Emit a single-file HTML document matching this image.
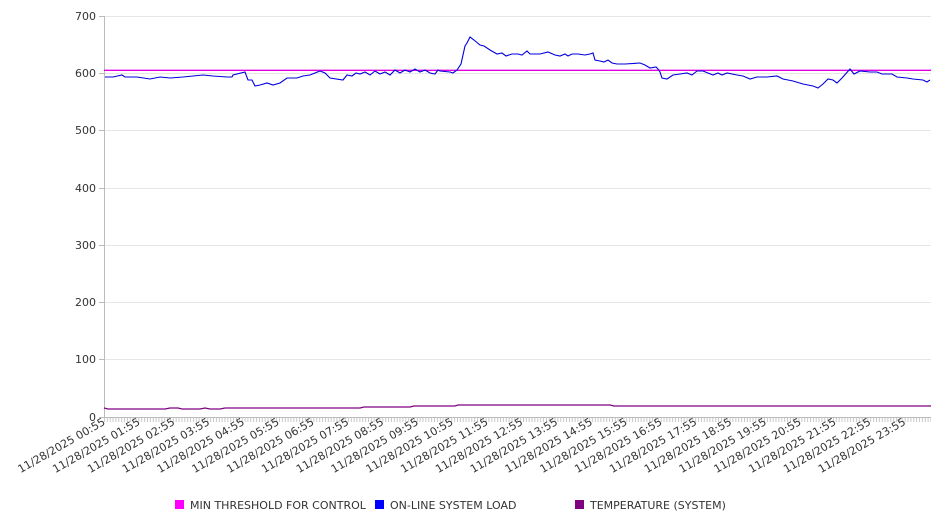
<!DOCTYPE html>
<html><head><meta charset="utf-8"><style>
body{margin:0;background:#fff;}
svg{display:block;font-family:"DejaVu Sans","Liberation Sans",sans-serif;}
</style></head><body>
<svg width="946" height="526" viewBox="0 0 946 526">
<defs><pattern id="tk" x="104" y="0" width="2.87" height="10" patternUnits="userSpaceOnUse"><rect x="0" y="0" width="0.8" height="10" fill="#bbb"/></pattern></defs>
<g stroke="#e6e6e6" stroke-width="1">
<line x1="104" x2="931" y1="16.5" y2="16.5"/><line x1="104" x2="931" y1="73.5" y2="73.5"/><line x1="104" x2="931" y1="130.5" y2="130.5"/><line x1="104" x2="931" y1="188.5" y2="188.5"/><line x1="104" x2="931" y1="245.5" y2="245.5"/><line x1="104" x2="931" y1="302.5" y2="302.5"/><line x1="104" x2="931" y1="359.5" y2="359.5"/>
</g>
<g stroke="#bbb"><line x1="104.5" x2="104.5" y1="16" y2="417"/><line x1="104" x2="931" y1="417.5" y2="417.5"/>
<line x1="99" x2="104" y1="16.5" y2="16.5"/><line x1="99" x2="104" y1="73.5" y2="73.5"/><line x1="99" x2="104" y1="130.5" y2="130.5"/><line x1="99" x2="104" y1="188.5" y2="188.5"/><line x1="99" x2="104" y1="245.5" y2="245.5"/><line x1="99" x2="104" y1="302.5" y2="302.5"/><line x1="99" x2="104" y1="359.5" y2="359.5"/><line x1="99" x2="104" y1="417.5" y2="417.5"/></g>
<rect x="104" y="418" width="827" height="4" fill="url(#tk)"/>
<g font-size="11" fill="#333" text-anchor="end">
<text x="96" y="20">700</text><text x="96" y="77">600</text><text x="96" y="134">500</text><text x="96" y="192">400</text><text x="96" y="249">300</text><text x="96" y="306">200</text><text x="96" y="363">100</text><text x="96" y="421">0</text>
</g>
<polyline fill="none" stroke="#e000e0" stroke-width="1.3" points="104,70.3 931,70.3"/>
<polyline fill="none" stroke="#0000dd" stroke-width="1.1" points="105,77 113,77 122,75 125,77 137,77 150,79 160,77 170,78 183,77 193,76 203,75 213,76 227,77 232,77 233,75 245,72 248,80 252,80 255,86 260,85 267,83 273,85 280,83 287,78 297,78 303,76 310,75 320,71 325,73 330,78 343,80 347,75 352,76 356,73 360,74 365,72 370,75 375,71 380,74 385,72 390,75 395,70 400,73 405,70 410,72 415,69 420,72 425,70 430,73 435,74 438,70 440,71 450,72 453,73 457,70 461,64 465,46 467,43 470,37 474,40 480,45 484,46 490,50 497,54 502,53 506,56 512,54 518,54 522,55 527,51 530,54 540,54 548,52 555,55 560,56 565,54 568,56 572,54 578,54 585,55 590,54 593,53 595,60 600,61 604,62 608,60 612,63 617,64 625,64 640,63 645,65 650,68 656,67 658,69 660,72 662,78 667,79 673,75 680,74 687,73 692,75 697,71 703,71 713,75 718,73 722,75 727,73 737,75 743,76 750,79 757,77 767,77 777,76 783,79 793,81 803,84 813,86 818,88 823,84 828,79 833,80 837,83 842,78 850,69 854,74 860,71 870,72 877,72 882,74 892,74 897,77 907,78 913,79 923,80 927,82 930,80"/>
<polyline fill="none" stroke="#800080" stroke-width="1.3" points="104,408 108,409 165,409 170,408 178,408 182,409 200,409 205,408 210,409 220,409 225,408 360,408 364,407 410,407 414,406 455,406 458,405 610,405 614,406 931,406"/>
<g font-size="11" fill="#333" text-anchor="end">
<text transform="translate(106,424) rotate(-30)">11/28/2025 00:55</text>
<text transform="translate(140.8,424) rotate(-30)">11/28/2025 01:55</text>
<text transform="translate(175.6,424) rotate(-30)">11/28/2025 02:55</text>
<text transform="translate(210.4,424) rotate(-30)">11/28/2025 03:55</text>
<text transform="translate(245.2,424) rotate(-30)">11/28/2025 04:55</text>
<text transform="translate(280,424) rotate(-30)">11/28/2025 05:55</text>
<text transform="translate(314.8,424) rotate(-30)">11/28/2025 06:55</text>
<text transform="translate(349.6,424) rotate(-30)">11/28/2025 07:55</text>
<text transform="translate(384.4,424) rotate(-30)">11/28/2025 08:55</text>
<text transform="translate(419.2,424) rotate(-30)">11/28/2025 09:55</text>
<text transform="translate(454,424) rotate(-30)">11/28/2025 10:55</text>
<text transform="translate(488.8,424) rotate(-30)">11/28/2025 11:55</text>
<text transform="translate(523.6,424) rotate(-30)">11/28/2025 12:55</text>
<text transform="translate(558.4,424) rotate(-30)">11/28/2025 13:55</text>
<text transform="translate(593.2,424) rotate(-30)">11/28/2025 14:55</text>
<text transform="translate(628,424) rotate(-30)">11/28/2025 15:55</text>
<text transform="translate(662.8,424) rotate(-30)">11/28/2025 16:55</text>
<text transform="translate(697.6,424) rotate(-30)">11/28/2025 17:55</text>
<text transform="translate(732.4,424) rotate(-30)">11/28/2025 18:55</text>
<text transform="translate(767.2,424) rotate(-30)">11/28/2025 19:55</text>
<text transform="translate(802,424) rotate(-30)">11/28/2025 20:55</text>
<text transform="translate(836.8,424) rotate(-30)">11/28/2025 21:55</text>
<text transform="translate(871.6,424) rotate(-30)">11/28/2025 22:55</text>
<text transform="translate(906.4,424) rotate(-30)">11/28/2025 23:55</text>
</g>
<g font-size="11" fill="#333">
<rect x="175" y="500" width="9" height="9" fill="#ff00ff"/><text x="190" y="509">MIN THRESHOLD FOR CONTROL</text>
<rect x="375" y="500" width="9" height="9" fill="#0000ff"/><text x="390" y="509">ON-LINE SYSTEM LOAD</text>
<rect x="575" y="500" width="9" height="9" fill="#800080"/><text x="590" y="509">TEMPERATURE (SYSTEM)</text>
</g>
</svg>
</body></html>
